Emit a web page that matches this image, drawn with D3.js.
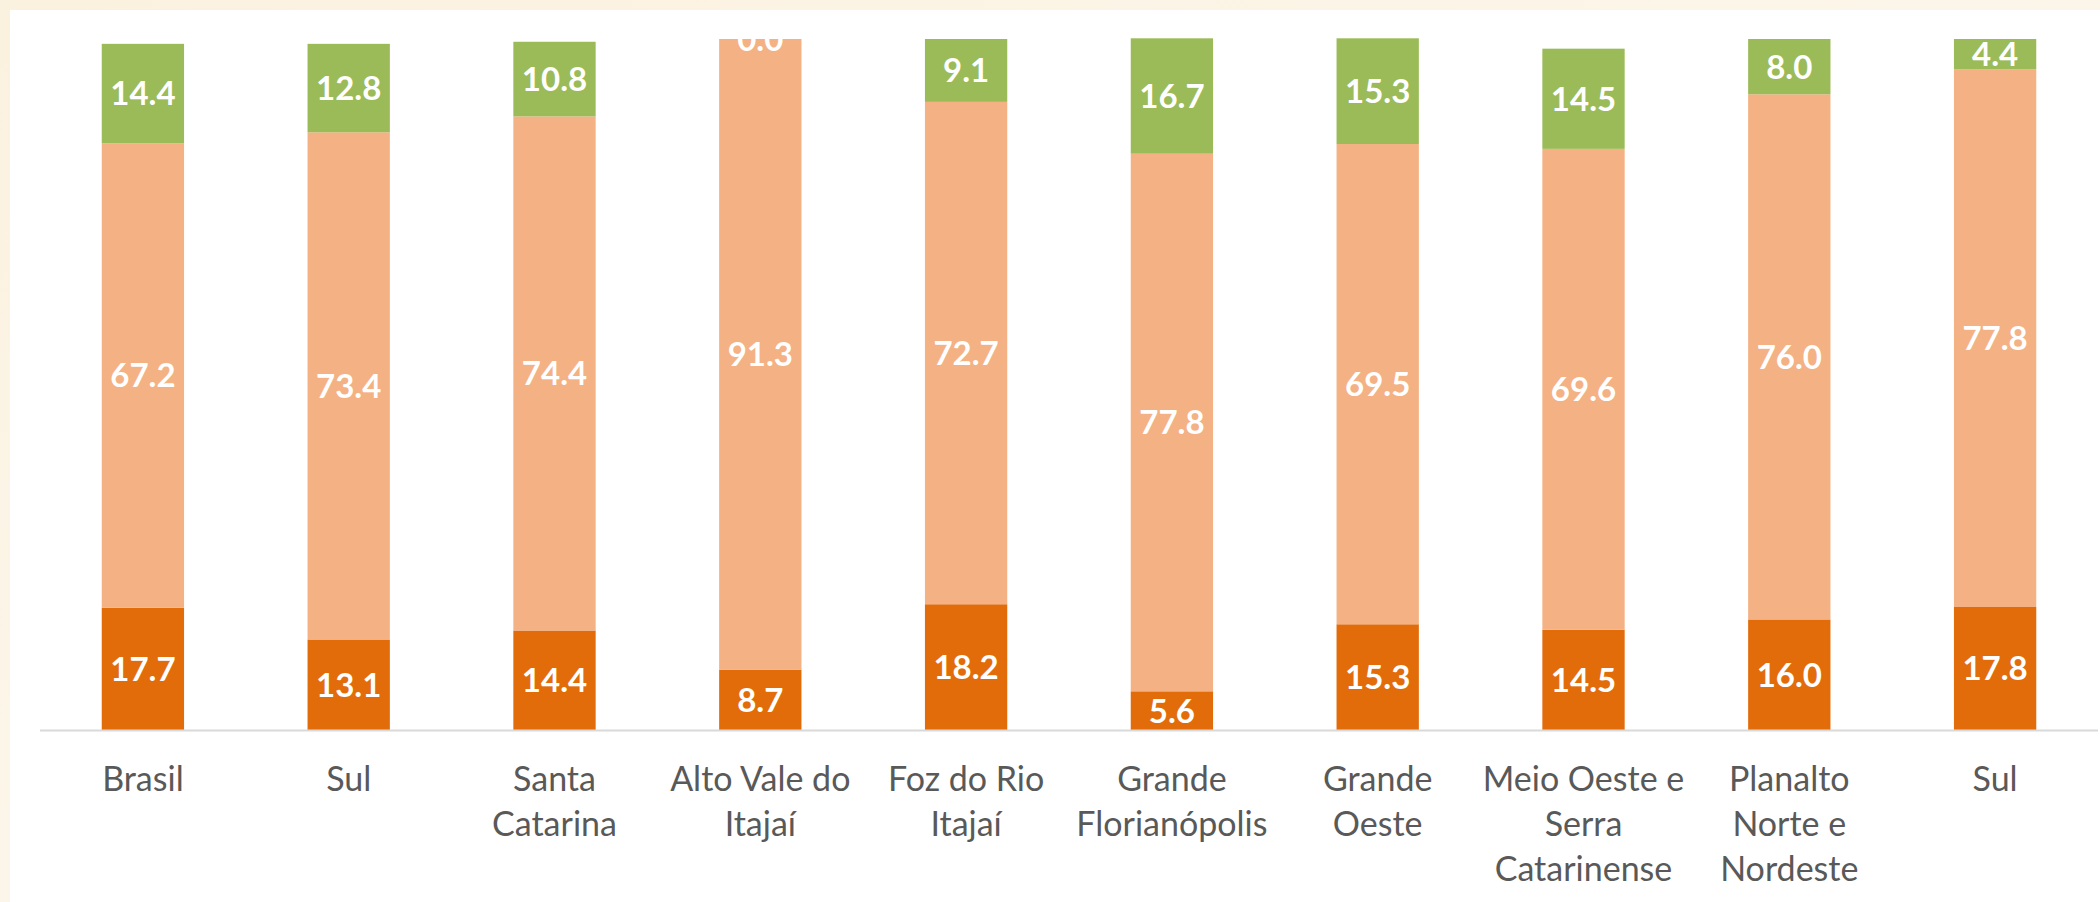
<!DOCTYPE html>
<html>
<head>
<meta charset="utf-8">
<script src="https://cdn.jsdelivr.net/npm/d3@7"></script>
<style>
  html, body { margin: 0; padding: 0; }
  body { width: 2100px; height: 902px; overflow: hidden; }
</style>
</head>
<body>
<svg class="chart"></svg>
<script>
/*Chart values*/
const categories = [
  ["Brasil"],
  ["Sul"],
  ["Santa", "Catarina"],
  ["Alto Vale do", "Itajaí"],
  ["Foz do Rio", "Itajaí"],
  ["Grande", "Florianópolis"],
  ["Grande", "Oeste"],
  ["Meio Oeste e", "Serra", "Catarinense"],
  ["Planalto", "Norte e", "Nordeste"],
  ["Sul"]
]
const bottomValues = [17.7, 13.1, 14.4, 8.7, 18.2, 5.6, 15.3, 14.5, 16.0, 17.8]
const middleValues = [67.2, 73.4, 74.4, 91.3, 72.7, 77.8, 69.5, 69.6, 76.0, 77.8]
const topValues    = [14.4, 12.8, 10.8, 0.0, 9.1, 16.7, 15.3, 14.5, 8.0, 4.4]
const seriesKeys = ["bottom", "middle", "top"]
const seriesColors = ["#E36C0A", "#F4B183", "#9BBB59"]

const width = 2100, height = 902
const plot = { left: 40, right: 2098, top: 39, bottom: 730 }

var svg = d3.select(".chart")
    .attr("width", width)
    .attr("height", height)

/*Cream background with a white chart area*/
var defs = svg.append("defs")
var grad = defs.append("linearGradient")
    .attr("id", "bg")
    .attr("x1", 0).attr("y1", 0).attr("x2", 1).attr("y2", 1)
grad.append("stop").attr("offset", "0%").attr("stop-color", "#FBF1DF")
grad.append("stop").attr("offset", "50%").attr("stop-color", "#FCF6EA")
grad.append("stop").attr("offset", "100%").attr("stop-color", "#FAEBD6")

svg.append("rect")
    .attr("width", width).attr("height", height)
    .attr("fill", "url(#bg)")
svg.append("rect")
    .attr("x", 10).attr("y", 10)
    .attr("width", width - 10).attr("height", height - 10)
    .attr("fill", "#ffffff")

defs.append("clipPath")
    .attr("id", "plotClip")
  .append("rect")
    .attr("x", 0).attr("y", plot.top)
    .attr("width", width).attr("height", plot.bottom - plot.top)

/*Table for the stack*/
var table = categories.map((c, i) => ({
  idx: i,
  bottom: bottomValues[i],
  middle: middleValues[i],
  top: topValues[i]
}))

var stacked = d3.stack().keys(seriesKeys)(table)

var x = d3.scaleBand()
    .domain(d3.range(categories.length))
    .range([plot.left, plot.right])
    .paddingInner(0.6)
    .paddingOuter(0.3)

var y = d3.scaleLinear()
    .domain([0, 100])
    .range([plot.bottom, plot.top])

/*Bars*/
var layers = svg.append("g")
    .attr("class", "bars")
  .selectAll("g")
  .data(stacked)
  .enter()
  .append("g")
    .attr("fill", (d, i) => seriesColors[i])

layers.selectAll("rect")
    .data(d => d)
    .enter()
    .append("rect")
      .attr("x", d => x(d.data.idx))
      .attr("width", x.bandwidth())
      .attr("y", d => y(d[1]))
      .attr("height", d => y(d[0]) - y(d[1]))

/*Value labels in the middle of each segment*/
var labels = svg.append("g")
    .attr("class", "labels")
    .attr("clip-path", "url(#plotClip)")

stacked.forEach(layer => {
  labels.selectAll(null)
    .data(layer)
    .enter()
    .append("text")
      .attr("x", d => x(d.data.idx) + x.bandwidth() / 2)
      .attr("y", d => y((d[0] + d[1]) / 2))
      .attr("dy", "0.36em")
      .attr("text-anchor", "middle")
      .attr("fill", "#ffffff")
      .style("font-family", "Lato, 'Open Sans', sans-serif")
      .style("font-weight", "bold")
      .style("font-size", "33px")
      .text(d => (d[1] - d[0]).toFixed(1))
})

/*Axis baseline*/
svg.append("line")
    .attr("x1", plot.left).attr("x2", plot.right)
    .attr("y1", plot.bottom + 0.5).attr("y2", plot.bottom + 0.5)
    .attr("stroke", "#D9D9D9")
    .attr("stroke-width", 2)

/*Category labels*/
var cats = svg.append("g")
    .attr("class", "categories")
  .selectAll("text")
  .data(categories)
  .enter()
  .append("text")
    .attr("x", (d, i) => x(i) + x.bandwidth() / 2)
    .attr("y", 791)
    .attr("text-anchor", "middle")
    .attr("fill", "#595959")
    .style("font-family", "Lato, 'Open Sans', sans-serif")
    .style("font-size", "34px")

cats.selectAll("tspan")
    .data(d => d)
    .enter()
    .append("tspan")
      .attr("x", function () { return d3.select(this.parentNode).attr("x") })
      .attr("dy", (d, i) => i === 0 ? 0 : 45)
      .text(d => d)
</script>
</body>
</html>
